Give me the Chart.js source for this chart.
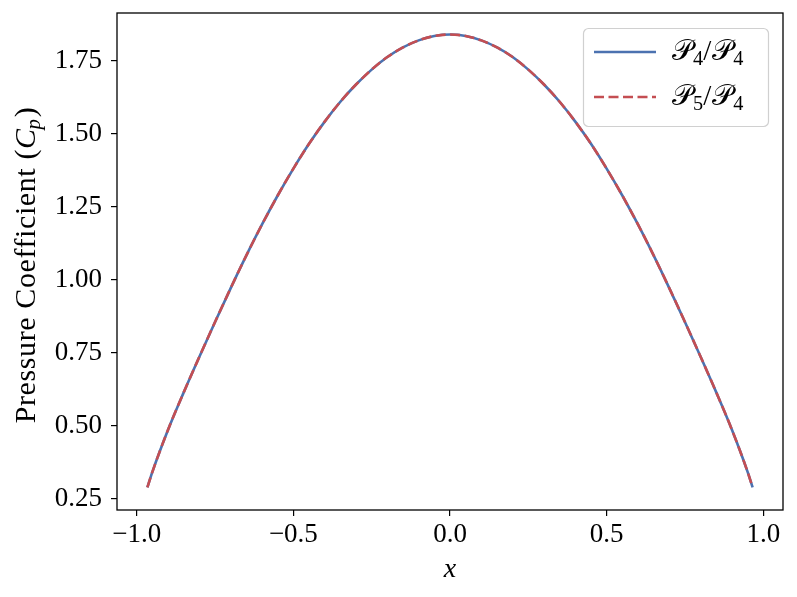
<!DOCTYPE html>
<html>
<head>
<meta charset="utf-8">
<script src="https://cdn.jsdelivr.net/npm/chart.js@4/dist/chart.umd.min.js"></script>
<style>
body { margin: 0; background: #fff; }
#contenedor { width: 797px; height: 597px; }
</style>
</head>
<body>
<div id="contenedor"><canvas id="graficoCp"></canvas></div>
<script>
// datos
var posX = [-0.966, -0.95, -0.9, -0.85, -0.8, -0.75, -0.7, -0.65, -0.6, -0.55, -0.5,
    -0.45, -0.4, -0.35, -0.3, -0.25, -0.2, -0.15, -0.1, -0.05, 0,
    0.05, 0.1, 0.15, 0.2, 0.25, 0.3, 0.35, 0.4, 0.45, 0.5,
    0.55, 0.6, 0.65, 0.7, 0.75, 0.8, 0.85, 0.9, 0.95, 0.966];
var cpP4 = [0.289, 0.342, 0.486, 0.614, 0.736, 0.855, 0.971, 1.083, 1.189, 1.288, 1.380,
    1.465, 1.541, 1.609, 1.668, 1.719, 1.762, 1.795, 1.819, 1.834, 1.839,
    1.834, 1.819, 1.795, 1.762, 1.719, 1.668, 1.609, 1.541, 1.465, 1.380,
    1.288, 1.189, 1.083, 0.971, 0.855, 0.736, 0.614, 0.486, 0.342, 0.289];
var cpP5 = [0.289, 0.342, 0.486, 0.614, 0.736, 0.855, 0.971, 1.083, 1.189, 1.288, 1.380,
    1.465, 1.541, 1.609, 1.668, 1.719, 1.762, 1.795, 1.819, 1.834, 1.839,
    1.834, 1.819, 1.795, 1.762, 1.719, 1.668, 1.609, 1.541, 1.465, 1.380,
    1.288, 1.189, 1.083, 0.971, 0.855, 0.736, 0.614, 0.486, 0.342, 0.289];
var ticksX = [-1.0, -0.5, 0.0, 0.5, 1.0];
var ticksY = [0.25, 0.50, 0.75, 1.00, 1.25, 1.50, 1.75];
var etiquetas = ['𝒫4/𝒫4', '𝒫5/𝒫4'];

var AZUL = '#4c72b0';
var ROJO = '#c44e52';
var SERIF = '"Liberation Serif", "DejaVu Serif", serif';

function puntos(ys) {
    return posX.map(function (x, i) { return { x: x, y: ys[i] }; });
}

// texto con subindices (los digitos van abajo y mas chicos)
function textoRico(ctx, texto, x, y, tam) {
    var cx = x;
    for (var ch of texto) {
        if (/[0-9]/.test(ch)) {
            ctx.font = (tam * 0.7) + 'px ' + SERIF;
            ctx.fillText(ch, cx, y + tam * 0.18);
            cx += ctx.measureText(ch).width;
        } else if (ch === '/') {
            ctx.font = tam + 'px ' + SERIF;
            ctx.fillText(ch, cx, y);
            cx += ctx.measureText(ch).width + 1;
        } else {
            ctx.font = tam + 'px ' + SERIF;
            ctx.fillText(ch, cx, y);
            cx += ctx.measureText(ch).width;
        }
    }
}

var marcoYTitulos = {
    id: 'marcoYTitulos',
    afterDraw: function (chart) {
        var ctx = chart.ctx;
        var a = chart.chartArea;
        ctx.save();
        // marco completo
        ctx.strokeStyle = '#000';
        ctx.lineWidth = 1.3;
        ctx.strokeRect(a.left, a.top, a.right - a.left, a.bottom - a.top);

        // titulo eje x
        ctx.fillStyle = '#000';
        ctx.textBaseline = 'alphabetic';
        ctx.textAlign = 'center';
        ctx.font = 'italic 28px ' + SERIF;
        ctx.fillText('x', (a.left + a.right) / 2, 577);

        // titulo eje y
        ctx.translate(35, 265);
        ctx.rotate(-Math.PI / 2);
        ctx.textAlign = 'left';
        ctx.letterSpacing = '0.6px';
        var p1 = 'Pressure Coefficient (';
        ctx.font = '30px ' + SERIF;
        var w1 = ctx.measureText(p1).width;
        ctx.font = 'italic 30px ' + SERIF;
        var w2 = ctx.measureText('C').width;
        ctx.font = 'italic 21px ' + SERIF;
        var w3 = ctx.measureText('p').width;
        ctx.font = '30px ' + SERIF;
        var w4 = ctx.measureText(')').width;
        var x0 = -(w1 + w2 + w3 + w4) / 2;
        ctx.font = '30px ' + SERIF;
        ctx.fillText(p1, x0, 0);
        ctx.font = 'italic 30px ' + SERIF;
        ctx.fillText('C', x0 + w1, 0);
        ctx.font = 'italic 21px ' + SERIF;
        ctx.fillText('p', x0 + w1 + w2 - 1, 5);
        ctx.font = '30px ' + SERIF;
        ctx.fillText(')', x0 + w1 + w2 + w3, 0);
        ctx.restore();

        // leyenda
        ctx.save();
        var lx = 583.5, ly = 28.5, lw = 185, lh = 98;
        ctx.beginPath();
        ctx.roundRect(lx, ly, lw, lh, 5);
        ctx.fillStyle = 'rgba(255,255,255,0.8)';
        ctx.fill();
        ctx.strokeStyle = '#d0d0d0';
        ctx.lineWidth = 1.2;
        ctx.stroke();
        chart.data.datasets.forEach(function (ds, i) {
            var yy = 52 + i * 45;
            ctx.beginPath();
            ctx.strokeStyle = ds.borderColor;
            ctx.lineWidth = ds.borderWidth;
            ctx.setLineDash(ds.borderDash || []);
            ctx.moveTo(594, yy);
            ctx.lineTo(656, yy);
            ctx.stroke();
            ctx.setLineDash([]);
            ctx.fillStyle = '#000';
            ctx.textAlign = 'left';
            ctx.textBaseline = 'alphabetic';
            textoRico(ctx, ds.label, 672, yy + 8, 29);
        });
        ctx.restore();
    }
};

const ctx = document.getElementById('graficoCp').getContext('2d');

var chart = new Chart(ctx, {
    type: 'line',
    data: {
        datasets: [{
            label: etiquetas[0],
            data: puntos(cpP4),
            borderColor: AZUL,
            borderWidth: 2.6,
            pointRadius: 0,
            cubicInterpolationMode: 'monotone',
            fill: false,
            order: 2
        },
        {
            label: etiquetas[1],
            data: puntos(cpP5),
            borderColor: ROJO,
            borderWidth: 2.6,
            borderDash: [10, 4.5],
            pointRadius: 0,
            cubicInterpolationMode: 'monotone',
            fill: false,
            order: 1
        }]
    },
    options: {
        responsive: true,
        maintainAspectRatio: false,
        animation: false,
        layout: { padding: { left: 0, right: 14, top: 13, bottom: 0 } },
        scales: {
            x: {
                type: 'linear',
                min: -1.063,
                max: 1.063,
                afterBuildTicks: function (s) { s.ticks = ticksX.map(function (v) { return { value: v }; }); },
                afterFit: function (s) { s.height = 87; s.paddingLeft = 0; s.paddingRight = 0; },
                grid: { drawOnChartArea: false, drawTicks: true, tickLength: 6, color: '#000', lineWidth: 1.2 },
                border: { display: false },
                ticks: {
                    color: '#000',
                    padding: 3,
                    maxRotation: 0,
                    font: { family: SERIF, size: 27 },
                    callback: function (v) { return (v < 0 ? '\u2212' : '') + Math.abs(v).toFixed(1); }
                }
            },
            y: {
                min: 0.2113,
                max: 1.9128,
                afterBuildTicks: function (s) { s.ticks = ticksY.map(function (v) { return { value: v }; }); },
                afterFit: function (s) { s.width = 117; s.paddingTop = 0; s.paddingBottom = 0; },
                grid: { drawOnChartArea: false, drawTicks: true, tickLength: 6, color: '#000', lineWidth: 1.2 },
                border: { display: false },
                ticks: {
                    color: '#000',
                    padding: 9,
                    font: { family: SERIF, size: 27 },
                    callback: function (v) { return v.toFixed(2); }
                }
            }
        },
        plugins: {
            legend: { display: false },
            tooltip: { enabled: false }
        }
    },
    plugins: [marcoYTitulos]
});
</script>
</body>
</html>
